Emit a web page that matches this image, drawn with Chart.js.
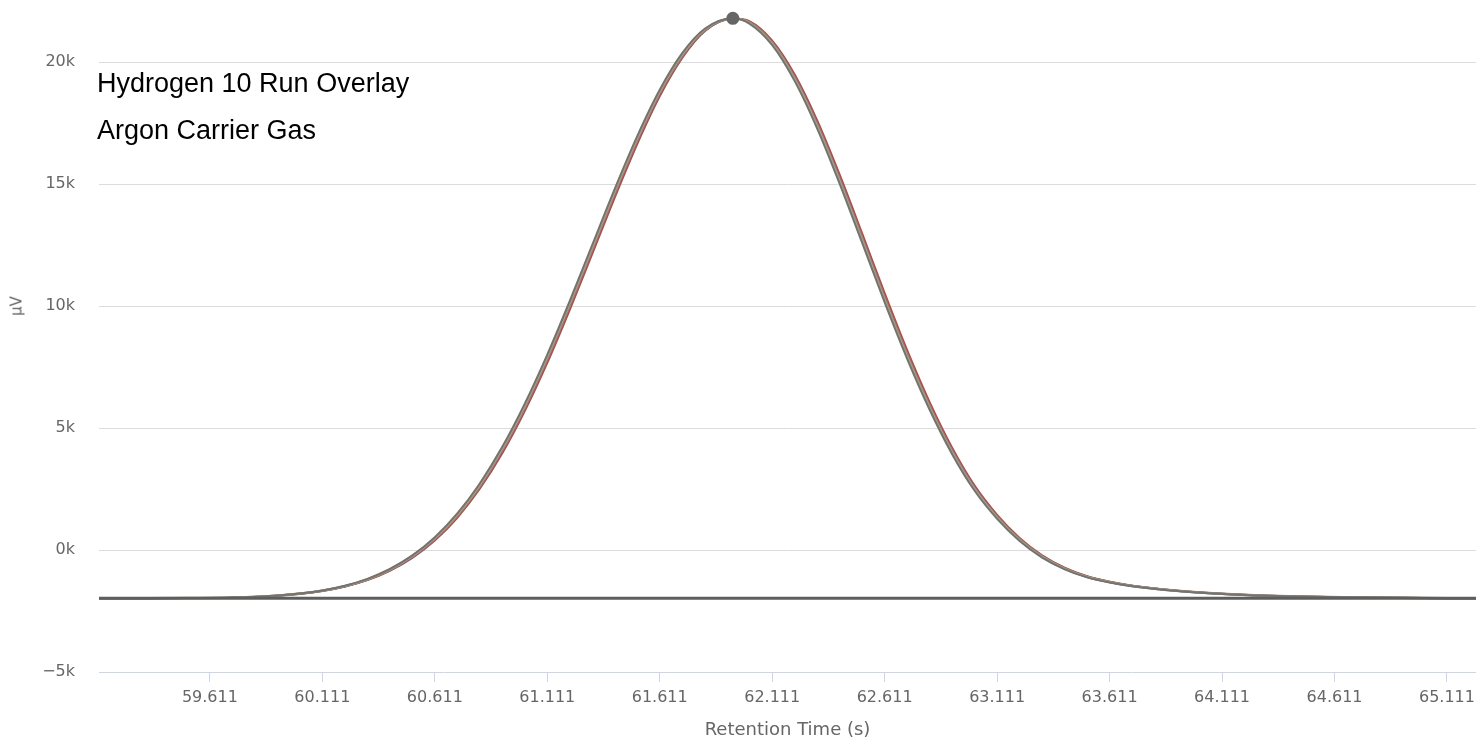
<!doctype html>
<html>

<head>
  <meta charset="UTF-8">
  <script src="https://cdn.jsdelivr.net/npm/chart.js"></script>
  <style>
    body { margin: 0; background: #fff; }
    #wrap { position: relative; width: 1476px; height: 742px; }
    .overlay-title {
      position: absolute; left: 97px; margin: 0;
      font-family: "Liberation Sans", Arial, sans-serif; font-size: 27px; line-height: 27px;
      color: #000; white-space: nowrap;
    }
    #yTitle {
      position: absolute; left: 17px; top: 306px; margin: 0;
      transform: translate(-50%, -50%) rotate(-90deg);
      font-family: "DejaVu Sans", sans-serif; font-size: 15px; line-height: 15px; color: #666;
    }
  </style>
</head>

<body>
  <div id="wrap">
    <canvas id="peakChart"></canvas>
    <p class="overlay-title" style="top:70px">Hydrogen 10 Run Overlay</p>
    <p class="overlay-title" style="top:117px">Argon Carrier Gas</p>
    <p id="yTitle">µV</p>
  </div>

<script>
  // retention time (s) shared by all runs
  const retentionTime = [59.111, 59.311, 59.511, 59.711, 59.911, 60.111, 60.211, 60.311, 60.411, 60.511,
    60.611, 60.711, 60.811, 60.911, 61.011, 61.111, 61.211, 61.311, 61.411, 61.511,
    61.611, 61.711, 61.811, 61.936, 62.011, 62.111, 62.211, 62.311, 62.411, 62.511,
    62.611, 62.711, 62.811, 62.911, 63.011, 63.111, 63.211, 63.311, 63.411, 63.511,
    63.611, 63.711, 63.911, 64.111, 64.311, 64.511, 64.711, 64.911, 65.111, 65.311];

  // detector signal (µV)
  const run1 = [-1980, -1978, -1970, -1948, -1862, -1655, -1463, -1180, -777, -220,
    527, 1500, 2730, 4230, 6000, 8010, 10210, 12510, 14810, 16970,
    18870, 20370, 21370, 21800, 21575, 20700, 19225, 17280, 15015, 12590,
    10150, 7840, 5750, 3930, 2430, 1280, 370, -310, -790, -1120,
    -1330, -1480, -1680, -1800, -1875, -1918, -1945, -1962, -1972, -1977];
  const run2 = [-1980, -1978, -1970, -1949, -1866, -1662, -1475, -1197, -801, -253,
    484, 1445, 2662, 4148, 5906, 7905, 10098, 12395, 14699, 16869,
    18785, 20308, 21338, 21798, 21606, 20759, 19311, 17385, 15132, 12712,
    10269, 7950, 5848, 4013, 2496, 1332, 410, -281, -770, -1107,
    -1321, -1474, -1676, -1798, -1874, -1917, -1944, -1962, -1972, -1977];
  const run3 = [-1980, -1978, -1971, -1950, -1869, -1667, -1484, -1211, -820, -279,
    450, 1401, 2607, 4083, 5830, 7821, 10008, 12303, 14609, 16787,
    18717, 20258, 21313, 21795, 21632, 20806, 19379, 17469, 15226, 12809,
    10364, 8038, 5926, 4079, 2549, 1373, 442, -258, -754, -1096,
    -1314, -1470, -1673, -1796, -1873, -1916, -1944, -1961, -1972, -1977];
  const run4 = [-1980, -1978, -1971, -1951, -1871, -1671, -1491, -1221, -835, -298,
    424, 1368, 2566, 4034, 5773, 7757, 9940, 12234, 14542, 16726,
    18666, 20220, 21294, 21792, 21650, 20841, 19430, 17533, 15296, 12882,
    10435, 8104, 5985, 4129, 2589, 1404, 465, -240, -741, -1088,
    -1308, -1466, -1670, -1794, -1871, -1915, -1943, -1961, -1972, -1977];
  const run5 = [-1980, -1978, -1971, -1952, -1874, -1676, -1501, -1235, -854, -324,
    389, 1324, 2512, 3968, 5698, 7673, 9850, 12142, 14453, 16645,
    18598, 20170, 21268, 21788, 21676, 20888, 19499, 17617, 15390, 12979,
    10530, 8192, 6063, 4196, 2642, 1445, 497, -217, -725, -1077,
    -1301, -1461, -1667, -1792, -1870, -1915, -1943, -1961, -1972, -1977];

  const baselineTime = [59.111, 65.311];
  const baselineLevel = [-1975, -1975];

  const runNames = ['Run 1', 'Run 2', 'Run 3', 'Run 4', 'Run 5'];
  const runColors = ['#737373', '#aaa388', '#8a835e', '#7b3fc4', '#e0421d'];
  const runWidths = [2, 2, 2.5, 2, 2];

  const xTicks = [59.611, 60.111, 60.611, 61.111, 61.611, 62.111, 62.611, 63.111, 63.611, 64.111, 64.611, 65.111];
  const yTicks = [-5000, 0, 5000, 10000, 15000, 20000];

  const runs = [run1, run2, run3, run4, run5];
  const peakIndex = run1.indexOf(Math.max(...run1));

  const toPoints = (xs, ys) => xs.map((x, i) => ({ x: x, y: ys[i] }));

  const datasets = [{
    label: 'Baseline',
    data: toPoints(baselineTime, baselineLevel),
    borderColor: '#5e5e5e',
    borderWidth: 3,
    pointRadius: 0
  }];
  runs.forEach((r, i) => {
    datasets.push({
      label: runNames[i],
      data: toPoints(retentionTime, r),
      borderColor: runColors[i],
      borderWidth: runWidths[i],
      cubicInterpolationMode: 'monotone',
      pointRadius: i === 0 ? (c => c.dataIndex === peakIndex ? 6.5 : 0) : 0,
      pointBackgroundColor: '#666666',
      pointBorderWidth: 0
    });
  });

  const tickFont = { family: 'DejaVu Sans', size: 16 };

  new Chart(document.getElementById('peakChart'), {
    type: 'line',
    data: { datasets: datasets },
    options: {
      responsive: true,
      maintainAspectRatio: false,
      animation: false,
      layout: { padding: 0 },
      plugins: { legend: { display: false }, tooltip: { enabled: false } },
      scales: {
        x: {
          type: 'linear',
          min: 59.118,
          max: 65.24,
          afterBuildTicks: s => { s.ticks = xTicks.map(v => ({ value: v })); },
          afterFit: s => { s.height = 70; s.paddingLeft = 0; s.paddingRight = 0; },
          ticks: { callback: v => v.toFixed(3), color: '#666666', font: tickFont, padding: 6, maxRotation: 0 },
          grid: { drawOnChartArea: false, tickLength: 10, color: '#ccd6eb' },
          border: { color: '#ccd6eb', width: 1 },
          title: { display: true, text: 'Retention Time (s)', color: '#666666', font: { family: 'DejaVu Sans', size: 18 }, padding: { top: 0, bottom: 1 } }
        },
        y: {
          min: -5000,
          max: 22550,
          afterBuildTicks: s => { s.ticks = yTicks.map(v => ({ value: v })); },
          afterFit: s => { s.width = 99; s.paddingTop = 0; s.paddingBottom = 0; },
          ticks: { callback: v => (v < 0 ? '\u2212' : '') + Math.abs(v / 1000) + 'k', color: '#666666', font: tickFont, padding: 24 },
          grid: { drawTicks: false, color: c => c.tick && c.tick.value === -5000 ? 'rgba(0,0,0,0)' : '#dcdcdc' },
          border: { display: false }
        }
      }
    }
  });
</script>

</body>

</html>
